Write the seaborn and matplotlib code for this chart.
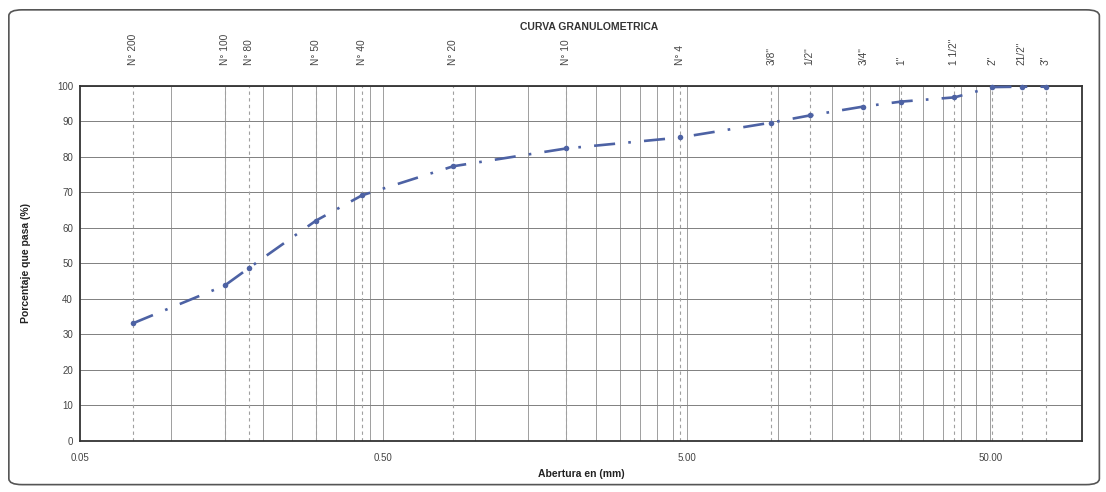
import numpy as np
import pandas as pd
import matplotlib.pyplot as plt
import seaborn as sns
from matplotlib.patches import FancyBboxPatch

# sieve data
sieve_names = ["N° 200", "N° 100", "N° 80", "N° 50", "N° 40", "N° 20", "N° 10", "N° 4",
               "3/8\"", "1/2\"", "3/4\"", "1\"", "1 1/2\"", "2\"", "21/2\"", "3\""]
openings_mm = [0.075, 0.15, 0.18, 0.30, 0.425, 0.85, 2.00, 4.75,
               9.5, 12.7, 19.05, 25.4, 38.1, 50.8, 63.5, 76.2]
passing_pct = [33.2, 43.8, 48.7, 62.1, 69.2, 77.4, 82.4, 85.5,
               89.7, 91.7, 94.2, 95.6, 96.8, 99.7, 99.8, 99.8]

x_ticks = [0.05, 0.5, 5.0, 50.0]
x_tick_labels = ["0.05", "0.50", "5.00", "50.00"]
y_ticks = list(range(0, 101, 10))

df = pd.DataFrame({"Tamiz": sieve_names, "Abertura": openings_mm, "Pasa": passing_pct})

sns.set_theme(style="white")
plt.rcParams["font.family"] = ["Liberation Sans", "DejaVu Sans"]

fig = plt.figure(figsize=(11.06, 4.92), dpi=100)
ax = fig.add_axes([0.0723, 0.1037, 0.9057, 0.7215])

ax.set_xscale("log")
ax.set_xlim(0.05, 100)
ax.set_ylim(0, 100)

# minor grid like excel: 0.05*k*10^n
minor = [0.05 * k * 10 ** n for n in range(0, 4) for k in range(2, 10)]
for v in minor:
    if v < 100:
        ax.axvline(v, color="#8f8f8f", lw=0.6, zorder=1)
for v in x_ticks[1:]:
    ax.axvline(v, color="#8f8f8f", lw=0.6, zorder=1)
for y in y_ticks[1:]:
    ax.axhline(y, color="#808080", lw=0.7, zorder=1)

# sieve dashed lines
for v in df["Abertura"]:
    ax.axvline(v, color="#a0a0a0", lw=0.8, ls=(0, (3, 3)), zorder=2)

sns.lineplot(data=df, x="Abertura", y="Pasa", ax=ax, color="#4d62a4", lw=1.9,
             marker="o", markersize=4, markeredgewidth=0, sort=False, zorder=5,
             clip_on=False)
ax.lines[-1].set_dashes((8, 5, 1, 5))

ax.set_xticks(x_ticks)
ax.set_xticklabels(x_tick_labels)
ax.xaxis.set_minor_locator(plt.NullLocator())
ax.set_yticks(y_ticks)
ax.tick_params(axis="both", labelsize=7, colors="#444444", length=3, width=0.6)
ax.tick_params(axis="y", pad=2)
ax.tick_params(axis="x", pad=6)

for s in ax.spines.values():
    s.set_color("#333333")
    s.set_linewidth(1.3)

ax.set_xlabel("Abertura en (mm)", fontsize=7.5, fontweight="bold", color="#222222", labelpad=4)
ax.set_ylabel("Porcentaje que pasa (%)", fontsize=7.5, fontweight="bold", color="#222222", labelpad=19)

# sieve names on top
for name, v in zip(df["Tamiz"], df["Abertura"]):
    ax.text(v, 1.06, name, transform=ax.get_xaxis_transform(), rotation=90,
            ha="center", va="bottom", fontsize=7.3, color="#444444")

fig.text(0.533, 0.945, "CURVA GRANULOMETRICA", ha="center", va="center",
         fontsize=7.5, fontweight="bold", color="#333333")

border = FancyBboxPatch((0.008, 0.015), 0.986, 0.965, boxstyle="round,pad=0,rounding_size=0.012",
                        transform=fig.transFigure, fill=False, ec="#555555", lw=1.2)
fig.patches.append(border)

fig.savefig("out.png", dpi=100)
